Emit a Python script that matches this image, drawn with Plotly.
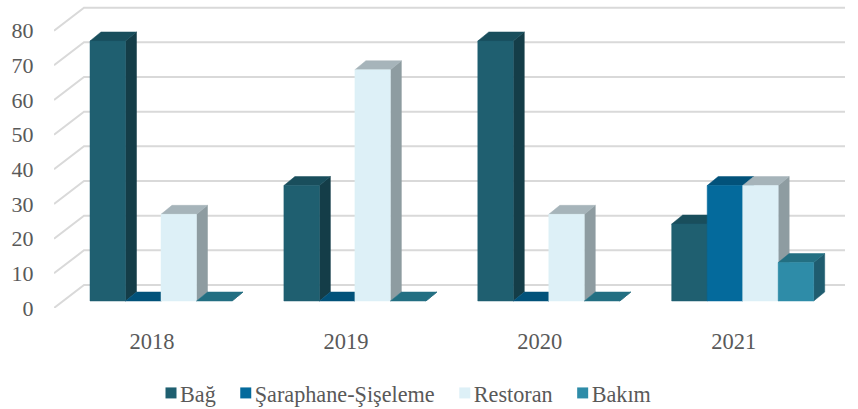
import plotly.graph_objects as go

# Chart content
years = ["2018", "2019", "2020", "2021"]
series_names = ["Bağ", "Şaraphane-Şişeleme", "Restoran", "Bakım"]
bag = [75, 33.3, 75, 22.2]
saraphane = [0, 0, 0, 33.3]
restoran = [25, 66.7, 25, 33.3]
bakim = [0, 0, 0, 11.1]
y_ticks = [0, 10, 20, 30, 40, 50, 60, 70, 80]

series_values = [bag, saraphane, restoran, bakim]
front_colors = ["#1F5F70", "#046A9C", "#DDF0F7", "#2E8CA8"]
top_colors = ["#194E5C", "#02527A", "#A6B4BA", "#236F82"]
side_colors = ["#143D48", "#023F5E", "#8E9CA1", "#1F5C6F"]

# Pseudo-3D geometry, in axis units
PX_X = 193.9          # pixels per category
PX_Y = 3.467          # pixels per value unit
BAR_W = 35.5 / PX_X
GROUP_START = -62 / PX_X
BAR_DX = 11 / PX_X
BAR_DY = 9 / PX_Y
BAR_LIFT = 7 / PX_Y   # bars stand this far behind the front edge of the floor
WALL_DX = 30 / PX_X
WALL_DY = 23 / PX_Y

LEFT, RIGHT, BOTTOM = 54, 845, 308
FONT = "Liberation Serif"
TEXT = "#595959"
GRID = "#D9D9D9"

x_min = (LEFT - 152) / PX_X
x_max = (RIGHT - 152) / PX_X

fig = go.Figure()


def polygon(xs, ys, color):
    fig.add_trace(go.Scatter(
        x=xs + xs[:1], y=ys + ys[:1], mode="lines", fill="toself",
        fillcolor=color, line=dict(width=0.5, color=color),
        showlegend=False, hoverinfo="skip",
    ))


# Grid runs from the front edge of the side wall, up to the back wall, then across
for tick in y_ticks:
    fig.add_trace(go.Scatter(
        x=[x_min, x_min + WALL_DX, x_max],
        y=[tick, tick + WALL_DY, tick + WALL_DY],
        mode="lines", line=dict(color=GRID, width=2),
        showlegend=False, hoverinfo="skip",
    ))

# Each bar is a side, a top and a front face; later series overlap earlier ones
for g in range(len(years)):
    for s, values in enumerate(series_values):
        v = values[g]
        x0 = g + GROUP_START + s * BAR_W
        x1 = x0 + BAR_W
        y0 = BAR_LIFT
        y1 = BAR_LIFT + v
        polygon([x1, x1 + BAR_DX, x1 + BAR_DX, x1],
                [y0, y0 + BAR_DY, y1 + BAR_DY, y1], side_colors[s])
        polygon([x0, x0 + BAR_DX, x1 + BAR_DX, x1],
                [y1, y1 + BAR_DY, y1 + BAR_DY, y1], top_colors[s])
        if v > 0:
            polygon([x0, x1, x1, x0], [y0, y0, y1, y1], front_colors[s])

# Legend entries
for name, color in zip(series_names, front_colors):
    fig.add_trace(go.Scatter(
        x=[None], y=[None], mode="markers", name=name,
        marker=dict(symbol="square", size=11, color=color),
    ))

fig.update_layout(
    width=858, height=409,
    margin=dict(l=LEFT, r=858 - RIGHT, t=0, b=409 - BOTTOM, autoexpand=False),
    paper_bgcolor="white", plot_bgcolor="white",
    font=dict(family=FONT, size=22, color=TEXT),
    xaxis=dict(range=[x_min, x_max], tickmode="array", tickvals=[0, 1, 2, 3],
               ticktext=years, showgrid=False, zeroline=False, showline=False,
               ticks="outside", ticklen=13, tickcolor="rgba(0,0,0,0)",
               tickfont=dict(size=22.5)),
    yaxis=dict(range=[0, BOTTOM / PX_Y], tickmode="array", tickvals=y_ticks,
               showgrid=False, zeroline=False, showline=False,
               ticks="outside", ticklen=15, tickcolor="rgba(0,0,0,0)"),
    legend=dict(orientation="h", x=140 / 858, xref="container", xanchor="left",
                y=16 / 409, yref="container", yanchor="middle",
                bgcolor="rgba(0,0,0,0)",
                font=dict(size=22.2), traceorder="normal"),
    showlegend=True,
)

# Tighten the legend: swatches sit next to their labels, entries closer together
tighten_legend = """
document.querySelectorAll('.legend .traces').forEach(function (item, i) {
  var m = /translate\\(([-\\d.]+),\\s*([-\\d.]+)\\)/.exec(item.getAttribute('transform'));
  if (m) item.setAttribute('transform',
      'translate(' + (parseFloat(m[1]) - 6 * i) + ',' + m[2] + ')');
  item.querySelector('.legendsymbols').setAttribute('transform', 'translate(11,0)');
});
"""

fig.write_html("out.html", config=dict(displayModeBar=False), post_script=tighten_legend)
